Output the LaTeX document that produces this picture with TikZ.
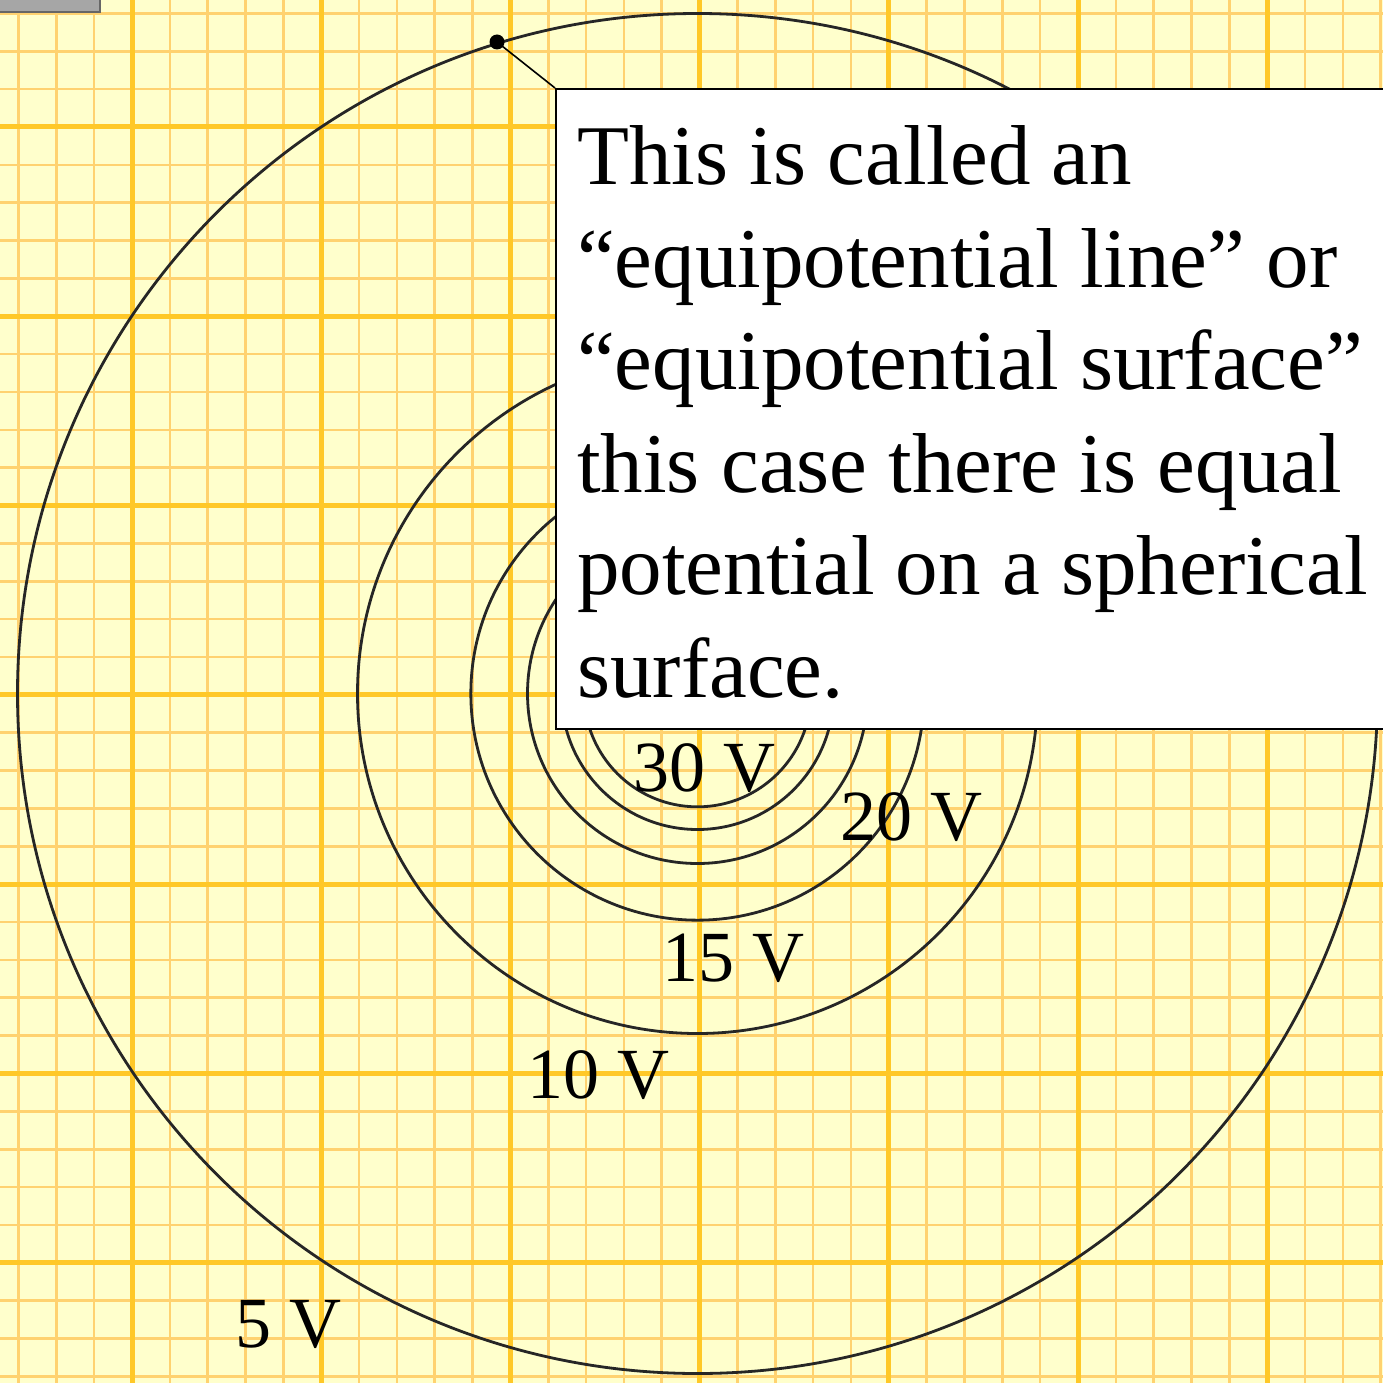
\documentclass[tikz,border=0pt]{standalone}
\usepackage{fontspec}
\setmainfont{Liberation Serif}
\definecolor{paper}{RGB}{255,255,204}
\definecolor{minorc}{RGB}{255,210,112}
\definecolor{majorc}{RGB}{255,200,40}
\begin{document}
\begin{tikzpicture}[x=1pt,y=-1pt,
  minorline/.style={line width=2.6pt, draw=minorc},
  majorline/.style={line width=5pt, draw=majorc},
  eqline/.style={line width=2.8pt, draw=black!85},
  bigtext/.style={anchor=base west, inner sep=0pt, font=\fontsize{85}{102}\selectfont},
  vlabel/.style={anchor=base west, inner sep=0pt, font=\fontsize{72}{86}\selectfont}]
\useasboundingbox (0,0) rectangle (1383,1383);
\clip (0,0) rectangle (1383,1383);
\fill[paper] (0,0) rectangle (1383,1383);
% minor grid
\foreach \k in {-4,...,37} {
  \draw[minorline] ({132+37.84*\k},0) -- ({132+37.84*\k},1383);
  \draw[minorline] (0,{127+37.86*\k}) -- (1383,{127+37.86*\k});
}
% major grid
\foreach \k in {-1,...,7} {
  \draw[majorline] ({132+189.2*\k},0) -- ({132+189.2*\k},1383);
  \draw[majorline] (0,{127+189.3*\k}) -- (1383,{127+189.3*\k});
}
% small grey box top-left
\fill[black!35] (0,0) rectangle (100,12);
\draw[black!60, line width=1.5pt] (0,12) -- (100,12) -- (100,0);
% equipotential circles
\coordinate (c) at (697.5,693.5);
\foreach \v in {5,10,15,20,25,30} {
  \draw[eqline] (c) circle[radius={3400/\v*1pt}];
}
% labels
\node[vlabel] (l30) at (633,791) {30 V};
\node[vlabel] (l20) at (840,840) {20 V};
\node[vlabel] (l15) at (662,981) {15 V};
\node[vlabel] (l10) at (527,1098) {10 V};
\node[vlabel] (l5) at (235,1347) {5 V};
% callout box
\node[draw=black, fill=white, line width=2pt, anchor=north west, minimum width=900pt, minimum height=640pt, inner sep=0pt] (box) at (555,88) {};
\node[circle, fill=black, inner sep=0pt, minimum size=15pt] (dot) at (497,42) {};
\draw[line width=1.6pt] (dot.center) -- (box.north west);
\node[bigtext] (t1) at (577,185) {This is called an};
\node[bigtext] (t2) at (577,287.4) {“equipotential line” or};
\node[bigtext] (t3) at (577,389.8) {“equipotential surface”};
\node[bigtext] (t4) at (577,492.2) {this case there is equal};
\node[bigtext] (t5) at (577,594.6) {potential on a spherical};
\node[bigtext] (t6) at (577,697) {surface.};
\end{tikzpicture}
\end{document}
